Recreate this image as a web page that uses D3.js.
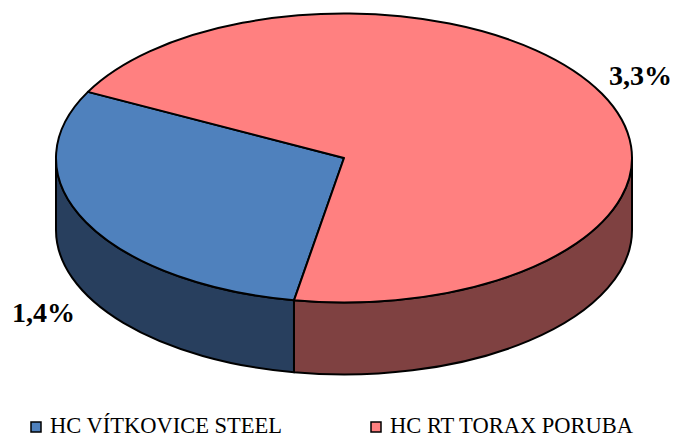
<!DOCTYPE html>
<html>
<head>
<meta charset="utf-8">
<script src="https://cdn.jsdelivr.net/npm/d3@7"></script>
<style>
  body { margin: 0; background: #fff; }
  svg { display: block; }
  text { font-family: "Liberation Serif", "Times New Roman", Times, "DejaVu Serif", serif; }
</style>
</head>
<body>
<div id="chart"></div>
<script>
// data
const teams = ["HC VÍTKOVICE STEEL", "HC RT TORAX PORUBA"];
const values = [1.4, 3.3];
const valueLabels = ["1,4%", "3,3%"];
const topColors = ["#4f81bd", "#ff8080"];
const sideColors = ["#283f5e", "#7f4141"];

// dimensions
const width = 678, height = 439;
const cx = 344, cy = 158, rx = 288, ry = 144.5, depth = 72;

const svg = d3.select("#chart")
    .append("svg")
    .attr("width", width)
    .attr("height", height);

// pie angles (d3 pie: 0 at 12 o'clock, clockwise)
const pie = d3.pie()
    .sort(null)
    .value(d => d)
    .startAngle(190 * Math.PI / 180)
    .endAngle(190 * Math.PI / 180 + 2 * Math.PI);

const arcs = pie(values);

// convert pie angle to ellipse parameter (0 at 3 o'clock, clockwise on screen)
const toT = a => a - Math.PI / 2;
const px = t => cx + rx * Math.cos(t);
const py = (t, dz) => cy + ry * Math.sin(t) + (dz || 0);

// side walls: only the front half (sin t > 0) is visible
function frontParts(t1, t2) {
    const parts = [];
    for (let k = -2; k <= 2; k++) {
        const a = Math.max(t1, k * 2 * Math.PI);
        const b = Math.min(t2, k * 2 * Math.PI + Math.PI);
        if (b > a) parts.push([a, b]);
    }
    return parts;
}

const sides = svg.append("g");
arcs.forEach(function(d, i) {
    frontParts(toT(d.startAngle), toT(d.endAngle)).forEach(function(p) {
        const [a, b] = p;
        const path = `M${px(a)},${py(a)} A${rx},${ry} 0 0 1 ${px(b)},${py(b)}`
            + ` L${px(b)},${py(b, depth)} A${rx},${ry} 0 0 0 ${px(a)},${py(a, depth)} Z`;
        sides.append("path")
            .attr("d", path)
            .attr("fill", sideColors[i])
            .attr("stroke", "#000")
            .attr("stroke-width", 2)
            .attr("stroke-linejoin", "round");
    });
});

// top faces
svg.append("g")
    .selectAll("path")
    .data(arcs)
    .join("path")
    .attr("d", function(d) {
        const a = toT(d.startAngle), b = toT(d.endAngle);
        const large = (b - a) > Math.PI ? 1 : 0;
        return `M${cx},${cy} L${px(a)},${py(a)} A${rx},${ry} 0 ${large} 1 ${px(b)},${py(b)} Z`;
    })
    .attr("fill", (d, i) => topColors[i])
    .attr("stroke", "#000")
    .attr("stroke-width", 2)
    .attr("stroke-linejoin", "round");

// value labels
const labelPos = [[12, 322, "start"], [672, 85, "end"]];
svg.append("g")
    .selectAll("text")
    .data(valueLabels)
    .join("text")
    .attr("x", (d, i) => labelPos[i][0])
    .attr("y", (d, i) => labelPos[i][1])
    .attr("text-anchor", (d, i) => labelPos[i][2])
    .attr("font-weight", "bold")
    .attr("font-size", 28)
    .attr("fill", "#000")
    .text(d => d);

// legend
const legendX = [31, 371];
const legend = svg.append("g")
    .selectAll("g")
    .data(teams)
    .join("g")
    .attr("transform", (d, i) => `translate(${legendX[i]},422)`);

legend.append("rect")
    .attr("width", 10)
    .attr("height", 10)
    .attr("fill", (d, i) => topColors[i])
    .attr("stroke", "#000")
    .attr("stroke-width", 1.5);

legend.append("text")
    .attr("x", 19)
    .attr("y", 11)
    .attr("font-size", 22.5)
    .attr("fill", "#000")
    .text(d => d);
</script>
</body>
</html>
